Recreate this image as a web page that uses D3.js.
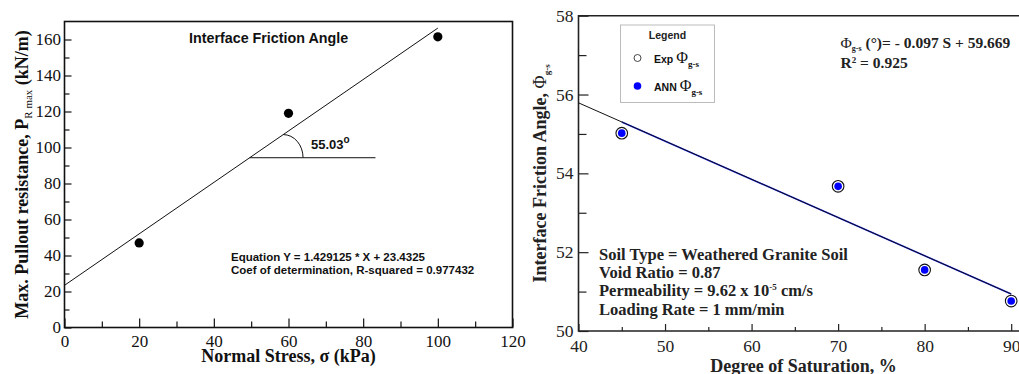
<!DOCTYPE html>
<html>
<head>
<meta charset="utf-8">
<script src="https://cdn.jsdelivr.net/npm/d3@7"></script>
<style>
  html, body { margin: 0; padding: 0; background: #fff; }
  svg { display: block; }
</style>
</head>
<body>
<svg id="chart" width="1019" height="374"></svg>
<script>
const SERIF = '"Liberation Serif", "Times New Roman", serif';
const SANS = '"Liberation Sans", Arial, sans-serif';

// ---- Left panel: pullout resistance vs normal stress ----
const stress = [20, 60, 100];
const pullout = [47, 119, 161.5];
const fitSlope = 1.429125;
const fitIntercept = 23.4325;
const fitRange = [0, 100];
const leftXTicks = [0, 20, 40, 60, 80, 100, 120];
const leftYTicks = [0, 20, 40, 60, 80, 100, 120, 140, 160];
const angleBaseX = [49.6, 83.3];   // horizontal reference line for the angle
const angleArcX = [58.6, 63.9];    // arc from the fit line down to the horizontal

// ---- Right panel: interface friction angle vs saturation ----
const saturation = [45, 70, 80, 90];
const phiExp = [55.02, 53.67, 51.55, 50.76];
const phiAnn = [55.02, 53.67, 51.55, 50.76];
const phiSlope = -0.097;
const phiIntercept = 59.669;
const phiRange = [40, 90];       // Exp fit line
const annRange = [45, 90];       // ANN fit line
const rightXTicks = [40, 50, 60, 70, 80, 90];
const rightYTicks = [50, 52, 54, 56, 58];

const svg = d3.select("#chart");

function styleTickText(a, size, color) {
  a.select(".domain").remove();
  a.selectAll("text")
    .style("font-family", SERIF).style("font-size", size + "px").attr("fill", color);
}

// ================= LEFT PANEL =================
const xL = d3.scaleLinear().domain([0, 120]).range([64.5, 512.5]);
const yL = d3.scaleLinear().domain([0, 170]).range([327.5, 21.5]);
const gL = svg.append("g");

// minor ticks
gL.append("g").attr("transform", `translate(0,${yL(0)})`)
  .call(d3.axisBottom(xL).tickValues(d3.range(10, 120, 20)).tickSize(-6).tickFormat(""))
  .call(g => g.select(".domain").remove());
gL.append("g").attr("transform", `translate(${xL(0)},0)`)
  .call(d3.axisLeft(yL).tickValues(d3.range(10, 170, 20)).tickSize(-5).tickFormat(""))
  .call(g => g.select(".domain").remove());
// major ticks
const axLX = gL.append("g").attr("transform", `translate(0,${yL(0)})`)
  .call(d3.axisBottom(xL).tickValues(leftXTicks).tickSize(-9).tickPadding(7.5).tickFormat(d3.format("d")));
const axLY = gL.append("g").attr("transform", `translate(${xL(0)},0)`)
  .call(d3.axisLeft(yL).tickValues(leftYTicks).tickSize(-7).tickPadding(3.5).tickFormat(d3.format("d")));
styleTickText(axLX, 17, "#111");
styleTickText(axLY, 17, "#111");
gL.selectAll(".tick line").attr("stroke", "#111").attr("stroke-width", 1.2);

// frame
gL.append("rect")
  .attr("x", xL(0)).attr("y", yL(170))
  .attr("width", xL(120) - xL(0)).attr("height", yL(0) - yL(170))
  .attr("fill", "none").attr("stroke", "#111").attr("stroke-width", 1.6);

// regression line
gL.append("line")
  .attr("x1", xL(fitRange[0])).attr("y1", yL(fitSlope * fitRange[0] + fitIntercept))
  .attr("x2", xL(fitRange[1])).attr("y2", yL(fitSlope * fitRange[1] + fitIntercept))
  .attr("stroke", "#111").attr("stroke-width", 1);

// angle marker
const baseY = fitSlope * angleBaseX[0] + fitIntercept;
gL.append("line")
  .attr("x1", xL(angleBaseX[0])).attr("y1", yL(baseY))
  .attr("x2", xL(angleBaseX[1])).attr("y2", yL(baseY))
  .attr("stroke", "#111").attr("stroke-width", 1);
const arcTopY = fitSlope * angleArcX[0] + fitIntercept;
const rx = xL(angleArcX[1]) - xL(angleArcX[0]);
const ry = yL(baseY) - yL(arcTopY);
gL.append("path")
  .attr("d", `M${xL(angleArcX[0])},${yL(arcTopY)} A${rx},${ry} 0 0 1 ${xL(angleArcX[1])},${yL(baseY)}`)
  .attr("fill", "none").attr("stroke", "#111").attr("stroke-width", 1);
const angTxt = gL.append("text").style("font-family", SANS)
  .attr("x", 311).attr("y", 149).style("font-size", "13px").style("font-weight", "bold").attr("fill", "#111");
angTxt.append("tspan").text("55.03");
angTxt.append("tspan").attr("dy", -6).style("font-size", "10px").text("o");

// points
gL.selectAll("circle.pt").data(stress).join("circle")
  .attr("class", "pt")
  .attr("cx", d => xL(d)).attr("cy", (d, i) => yL(pullout[i]))
  .attr("r", 4.6).attr("fill", "#000");

// texts
gL.append("text").style("font-family", SANS)
  .attr("x", 189).attr("y", 42.5)
  .style("font-size", "14.3px").style("font-weight", "bold").attr("fill", "#111")
  .text("Interface Friction Angle");
gL.append("text").style("font-family", SANS)
  .attr("x", 231).attr("y", 260.5)
  .style("font-size", "11.5px").style("font-weight", "bold").attr("fill", "#111")
  .text("Equation Y = 1.429125 * X + 23.4325");
gL.append("text").style("font-family", SANS)
  .attr("x", 231).attr("y", 273.5)
  .style("font-size", "11.5px").style("font-weight", "bold").attr("fill", "#111")
  .text("Coef of determination, R-squared = 0.977432");

// axis titles
gL.append("text").style("font-family", SERIF)
  .attr("x", (xL(0) + xL(120)) / 2).attr("y", 362).attr("text-anchor", "middle")
  .style("font-size", "18px").style("font-weight", "bold").attr("fill", "#111")
  .text("Normal Stress, σ (kPa)");
const ytL = gL.append("text").style("font-family", SERIF)
  .attr("transform", `translate(28,${(yL(0) + yL(170)) / 2}) rotate(-90)`)
  .attr("text-anchor", "middle")
  .style("font-size", "18px").style("font-weight", "bold").attr("fill", "#111");
ytL.append("tspan").text("Max. Pullout resistance, P");
ytL.append("tspan").attr("dy", 4).style("font-size", "11px").style("font-weight", "normal").text("R max");
ytL.append("tspan").attr("dy", -4).text(" (kN/m)");

// ================= RIGHT PANEL =================
const xR = d3.scaleLinear().domain([40, 92]).range([578.5, 1028.5]);
const yR = d3.scaleLinear().domain([50, 58]).range([331, 15.7]);
const gR = svg.append("g");

gR.append("g").attr("transform", `translate(0,${yR(50)})`)
  .call(d3.axisBottom(xR).tickValues(d3.range(45, 92, 10)).tickSize(-4).tickFormat(""))
  .call(g => g.select(".domain").remove());
gR.append("g").attr("transform", `translate(${xR(40)},0)`)
  .call(d3.axisLeft(yR).tickValues(d3.range(51, 58, 2)).tickSize(-8).tickFormat(""))
  .call(g => g.select(".domain").remove());
const axRX = gR.append("g").attr("transform", `translate(0,${yR(50)})`)
  .call(d3.axisBottom(xR).tickValues(rightXTicks).tickSize(-7).tickPadding(8.5).tickFormat(d3.format("d")));
const axRY = gR.append("g").attr("transform", `translate(${xR(40)},0)`)
  .call(d3.axisLeft(yR).tickValues(rightYTicks).tickSize(-10).tickPadding(5).tickFormat(d3.format("d")));
styleTickText(axRX, 17.5, "#222");
styleTickText(axRY, 17.5, "#222");
gR.selectAll(".tick line").attr("stroke", "#222").attr("stroke-width", 1.2);

// frame: left, bottom, top
gR.append("path")
  .attr("d", `M${xR(92)},${yR(58)} H${xR(40)} V${yR(50)} H${xR(92)}`)
  .attr("fill", "none").attr("stroke", "#222").attr("stroke-width", 1.6);

// fit lines: ANN (blue) beneath the Exp fit (black)
const lineAt = r => r.map(s => [xR(s), yR(phiSlope * s + phiIntercept)]);
gR.append("path").attr("d", d3.line()(lineAt(annRange))).attr("stroke", "#1f2bff").attr("stroke-width", 1.6).attr("fill", "none");
gR.append("path").attr("d", d3.line()(lineAt(phiRange))).attr("stroke", "#111").attr("stroke-width", 1.0).attr("fill", "none");

// points
gR.selectAll("circle.exp").data(saturation).join("circle")
  .attr("class", "exp")
  .attr("cx", d => xR(d)).attr("cy", (d, i) => yR(phiExp[i]))
  .attr("r", 5.8).attr("fill", "#fff").attr("stroke", "#111").attr("stroke-width", 1.1);
gR.selectAll("circle.ann").data(saturation).join("circle")
  .attr("class", "ann")
  .attr("cx", d => xR(d)).attr("cy", (d, i) => yR(phiAnn[i]))
  .attr("r", 3.8).attr("fill", "#0000ff");

// legend
const lg = gR.append("g");
lg.append("rect").attr("x", 620.5).attr("y", 25).attr("width", 94).attr("height", 77.5)
  .attr("fill", "#fff").attr("stroke", "#bbb").attr("stroke-width", 1);
lg.append("text").style("font-family", SANS).attr("x", 667.5).attr("y", 39).attr("text-anchor", "middle")
  .style("font-size", "10.5px").style("font-weight", "bold").attr("fill", "#222").text("Legend");
lg.append("circle").attr("cx", 637.5).attr("cy", 58).attr("r", 3.5)
  .attr("fill", "#fff").attr("stroke", "#333").attr("stroke-width", 0.9);
lg.append("circle").attr("cx", 637.5).attr("cy", 86).attr("r", 3.8).attr("fill", "#0000ff");
[["Exp ", 63], ["ANN ", 91]].forEach(([lab, y]) => {
  const t = lg.append("text").attr("x", 654).attr("y", y).attr("fill", "#111");
  t.append("tspan").style("font-family", SANS).style("font-size", "10.5px").style("font-weight", "bold").text(lab);
  t.append("tspan").style("font-family", SERIF).style("font-size", "16px").text("Φ");
  t.append("tspan").style("font-family", SERIF).attr("dy", 4).style("font-size", "9px").style("font-weight", "bold").text("g-s");
});

// fit equation
const eq = gR.append("text").style("font-family", SERIF).attr("x", 840.5).attr("y", 47.5)
  .style("font-size", "15.5px").style("font-weight", "bold").attr("fill", "#222");
eq.append("tspan").style("font-weight", "normal").text("Φ");
eq.append("tspan").attr("dy", 3).style("font-size", "8px").text("g-s");
eq.append("tspan").attr("dy", -3).text(" (°)= - 0.097 S + 59.669");
const r2 = gR.append("text").style("font-family", SERIF).attr("x", 840.5).attr("y", 67.5)
  .style("font-size", "15.5px").style("font-weight", "bold").attr("fill", "#222");
r2.append("tspan").text("R");
r2.append("tspan").attr("dy", -5).style("font-size", "9px").text("2");
r2.append("tspan").attr("dy", 5).text(" = 0.925");

// soil information
const info = gR.append("text").style("font-family", SERIF)
  .style("font-size", "16.5px").style("font-weight", "bold").attr("fill", "#222");
info.append("tspan").attr("x", 599).attr("y", 260).text("Soil Type = Weathered Granite Soil");
info.append("tspan").attr("x", 599).attr("y", 278).text("Void Ratio = 0.87");
const perm = info.append("tspan").attr("x", 599).attr("y", 296);
perm.append("tspan").text("Permeability = 9.62 x 10");
perm.append("tspan").attr("dy", -6).style("font-size", "9px").text("-5");
perm.append("tspan").attr("dy", 6).text(" cm/s");
info.append("tspan").attr("x", 599).attr("y", 314.5).text("Loading Rate = 1 mm/min");

// axis titles
gR.append("text").style("font-family", SERIF)
  .attr("x", (xR(40) + xR(92)) / 2).attr("y", 372).attr("text-anchor", "middle")
  .style("font-size", "18px").style("font-weight", "bold").attr("fill", "#222")
  .text("Degree of Saturation, %");
const ytR = gR.append("text").style("font-family", SERIF)
  .attr("transform", `translate(546,${(yR(50) + yR(58)) / 2}) rotate(-90)`)
  .attr("text-anchor", "middle")
  .style("font-size", "18px").style("font-weight", "bold").attr("fill", "#222");
ytR.append("tspan").text("Interface Friction Angle, ");
ytR.append("tspan").style("font-weight", "normal").text("Φ");
ytR.append("tspan").attr("dy", 4).style("font-size", "9px").text("g-s");
</script>
</body>
</html>
